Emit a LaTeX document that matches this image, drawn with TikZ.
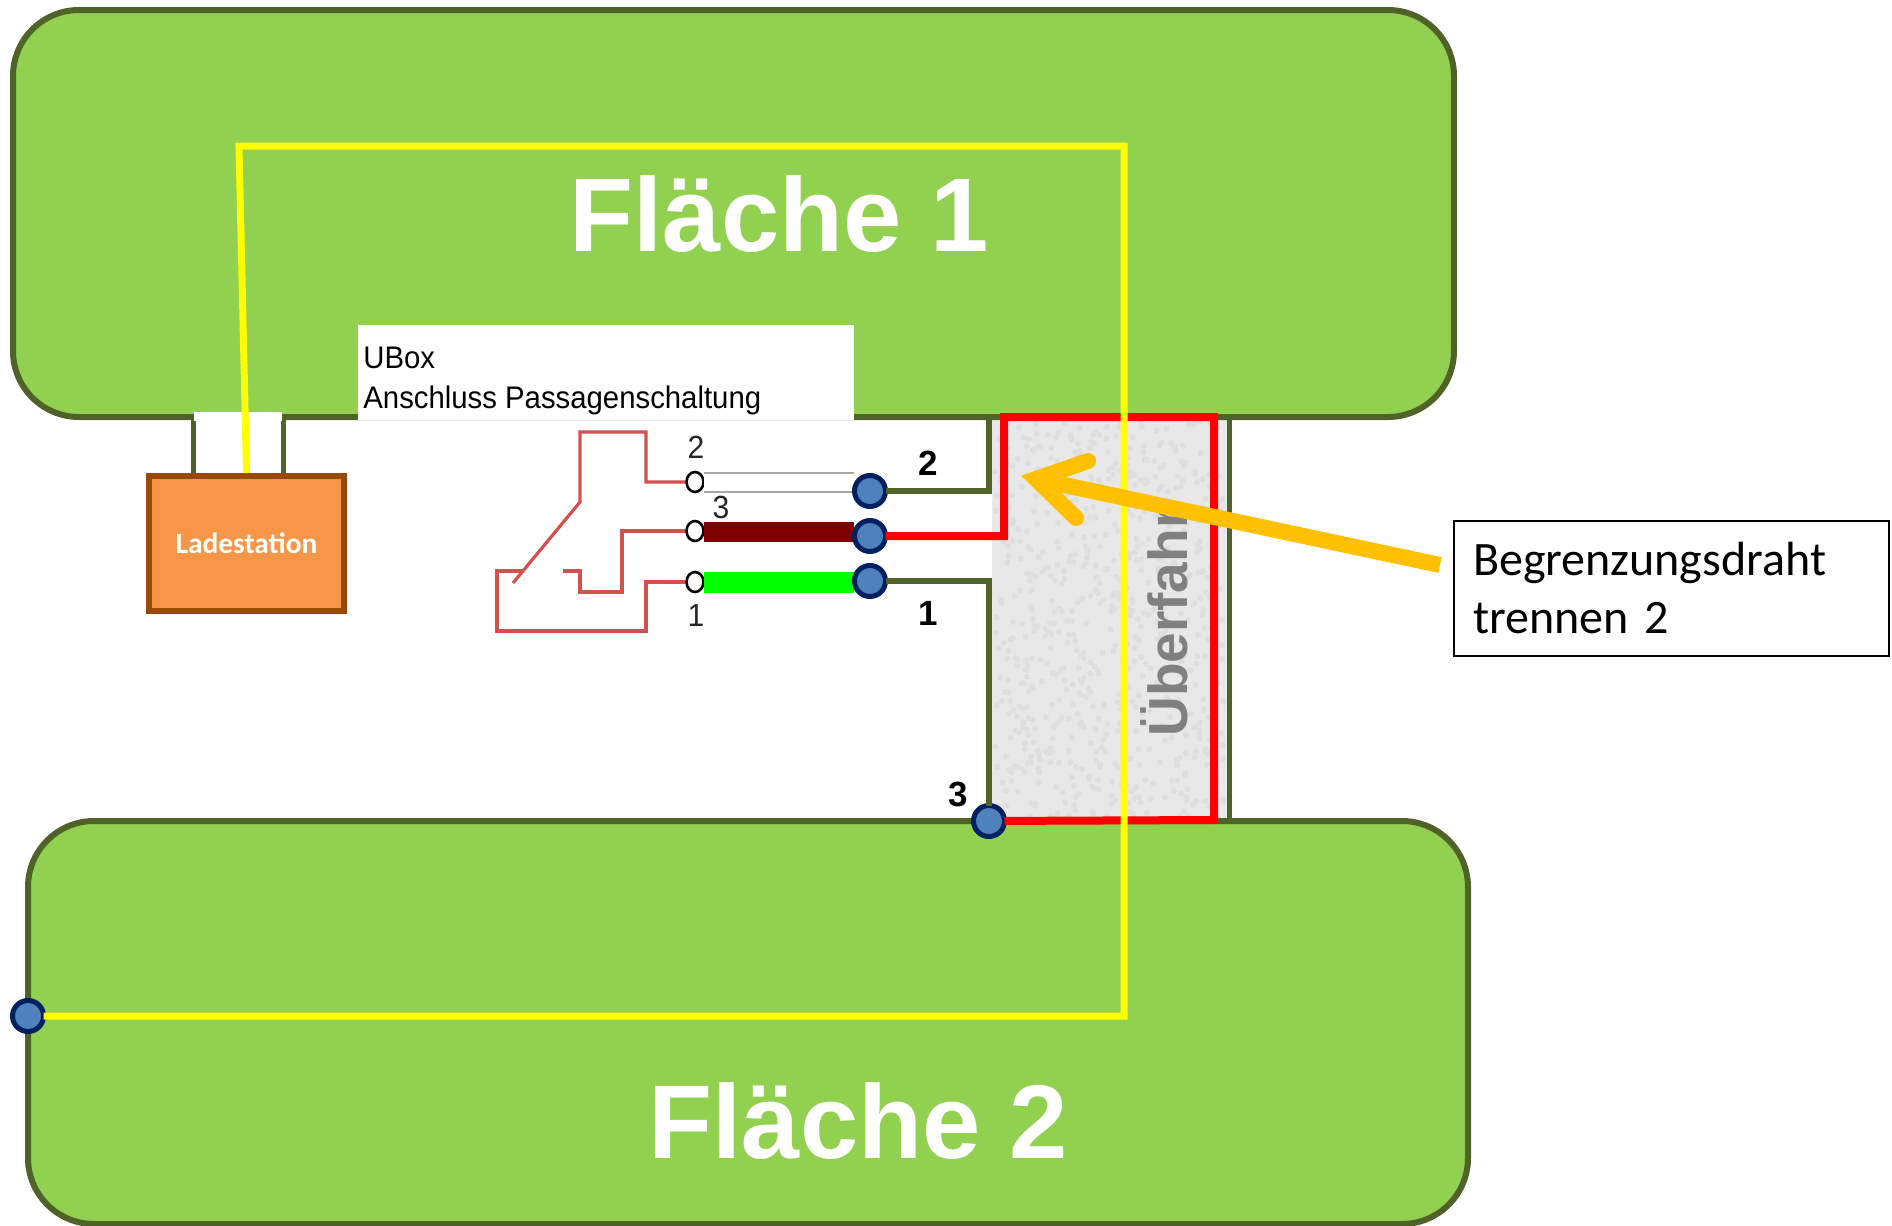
\documentclass[tikz,border=0pt]{standalone}
\usepackage{fontspec}
\setmainfont{Liberation Sans}
\newfontfamily\calibri{Carlito}
\newfontfamily\uboxfont[FakeStretch=0.94]{Liberation Sans}
\usetikzlibrary{shapes.geometric}

\definecolor{areagreen}{HTML}{92D050}
\definecolor{areaedge}{HTML}{4F6228}
\definecolor{dotblue}{HTML}{4F81BD}
\definecolor{dotedge}{HTML}{002060}
\definecolor{schemred}{HTML}{D4504E}
\definecolor{pointerorange}{HTML}{FFC000}
\definecolor{stationfill}{HTML}{F79646}
\definecolor{stationedge}{HTML}{984807}
\definecolor{crossing}{HTML}{E8E8E8}
\definecolor{speck}{HTML}{DEDEDE}
\definecolor{darkbar}{HTML}{7F0000}
\definecolor{wireyel}{HTML}{FFFF00}
\definecolor{wirer}{HTML}{FF0000}
\definecolor{wireg}{HTML}{00FF00}

\tikzset{
	area/.style={draw=areaedge, fill=areagreen, line width=3pt, rounded corners=33pt},
	wiregreen/.style={draw=areaedge, line width=3pt},
	wirered/.style={draw=wirer, line width=4pt},
	wireyellow/.style={draw=wireyel, line width=3.5pt},
	schem/.style={draw=schemred, line width=1.6pt},
	term/.style={draw=black, line width=1.3pt, fill=white, ellipse, minimum width=8.5pt, minimum height=10pt, inner sep=0pt},
	dot/.style={circle, draw=dotedge, fill=dotblue, line width=2.5pt, minimum size=15.5pt, inner sep=0pt, outer sep=0pt},
	bignum/.style={font=\bfseries\fontsize{17.5}{20}\selectfont, inner sep=0pt},
	smallnum/.style={font=\uboxfont\fontsize{16}{18}\selectfont, text=black!85, inner sep=0pt},
	title/.style={font=\bfseries\fontsize{52.4}{60}\selectfont, text=white, anchor=base, inner sep=0pt},
	pointer/.style={draw=pointerorange, line width=8pt}
}

\begin{document}
\begin{tikzpicture}[x=.5pt,y=-.5pt]
	\useasboundingbox (0,0) rectangle (1892,1226);
	% crossing strip
	\fill[crossing] (992,417) rectangle (1227,820);
	\pgfmathsetseed{7}
	\foreach \i in {1,...,700}{
		\pgfmathsetmacro{\px}{995+rnd*229}
		\pgfmathsetmacro{\py}{420+rnd*397}
		\fill[speck] (\px,\py) circle (1.5pt);
	}
	\draw[areaedge, line width=2.5pt] (1229,417) -- (1229,820);
	\draw[areaedge, line width=2.5pt] (193,417) -- (193,474);
	\draw[areaedge, line width=2.5pt] (283,417) -- (283,474);
	% the two lawns
	\draw[area] (13,10) rectangle (1454,417);
	\draw[area] (28,821) rectangle (1468,1224);
	\fill[white] (194,412) rectangle (282,421);
	\fill[white] (358,325) rectangle (854,420);
	\node[title] (flaeche1) at (779.5,251) {Fläche 1};
	\node[title] (flaeche2) at (858.5,1158) {Fläche 2};
	\node[anchor=base west, inner sep=0pt, font=\uboxfont\fontsize{15.6}{18}\selectfont] (ubox) at (363,368) {UBox};
	\node[anchor=base west, inner sep=0pt, font=\uboxfont\fontsize{15.6}{18}\selectfont] (anschluss) at (363,408) {Anschluss Passagenschaltung};
	\node[rotate=90, anchor=base west, inner sep=0pt, text=gray, font=\bfseries\fontsize{27.5}{30}\selectfont] (ueberfahrt) at (1187,737) {Überfahr};
	% charging station
	\node[draw=stationedge, fill=stationfill, line width=3pt, minimum width=97.5pt, minimum height=67.5pt, inner sep=0pt, text=white, font=\calibri\bfseries\fontsize{14.7}{17}\selectfont] (ladestation) at (246.5,543.5) {Ladestation};
	% switch
	\node[term] (term2) at (695,482) {};
	\node[term] (term3) at (695,531) {};
	\node[term] (term1) at (695,582) {};
	\draw[schem] (term2) -- (646,482) -- (646,432) -- (580,432) -- (580,502) -- (513,583);
	\draw[schem] (term3) -- (622,531) -- (622,592) -- (580,592) -- (580,571) -- (563,571);
	\draw[schem] (term1) -- (646,582) -- (646,631) -- (497,631) -- (497,571) -- (522,571);
	\node[smallnum] (num2) at (696,447) {2};
	\node[smallnum] (num3) at (721,507) {3};
	\node[smallnum] (num1) at (696,615) {1};
	% wire bars
	\fill[white] (704,472) rectangle (854,493);
	\draw[gray!70, line width=1pt] (854,473) -- (704,473) (704,492) -- (854,492);
	\fill[darkbar] (704,522) rectangle (854,542);
	\fill[wireg] (704,572) rectangle (854,593);
	% connection points
	\node[dot] (dot2) at (870,491) {};
	\node[dot] (dot3) at (870,536) {};
	\node[dot] (dot1) at (870,581) {};
	\node[dot] (dotlow) at (989,821) {};
	\node[dot] (dotleft) at (28,1016) {};
	\draw[wiregreen] (dot2) -- (989,491) -- (989,417);
	\draw[wiregreen] (dot1) -- (989,581) -- (dotlow);
	\draw[wirered] (dot3) -- (1004,536) -- (1004,417) -- (1214,417) -- (1214,820) -- (dotlow);
	\draw[wireyellow] (ladestation.north) -- (239,146) -- (1124,146) -- (1124,1016) -- (dotleft);
	\node[bignum] (label2) at (928,463) {2};
	\node[bignum] (label1) at (928,613) {1};
	\node[bignum] (label3) at (958,794) {3};
	% note and its arrow
	\node[draw=black, fill=white, line width=1pt, minimum width=217.5pt, minimum height=67.5pt, inner sep=0pt, align=left, text width=198pt, font=\calibri\fontsize{24}{29}\selectfont] (note) at (1671,588.5) {Begrenzungsdraht\\trennen 2};
	\coordinate (tip) at (1036,479);
	\draw[pointer] (1440,565) -- (tip);
	\draw[pointer, line cap=round] (1088,461) -- (tip) -- (1076,518);
\end{tikzpicture}
\end{document}
